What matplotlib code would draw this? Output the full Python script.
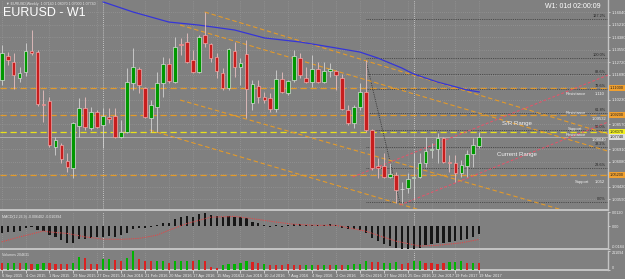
import matplotlib
matplotlib.use("Agg")
import matplotlib.pyplot as plt
import matplotlib.transforms as mtransforms
import numpy as np

plt.rcParams['font.family'] = ['Liberation Sans', 'DejaVu Sans']

# ---------------- data ----------------
date_labels = ["6 Sep 2015", "4 Oct 2015", "1 Nov 2015", "29 Nov 2015", "27 Dec 2015",
               "24 Jan 2016", "21 Feb 2016", "20 Mar 2016", "17 Apr 2016", "15 May 2016",
               "12 Jun 2016", "10 Jul 2016", "7 Aug 2016", "4 Sep 2016", "2 Oct 2016",
               "30 Oct 2016", "27 Nov 2016", "25 Dec 2016", "22 Jan 2017", "19 Feb 2017",
               "19 Mar 2017"]

opens = [1.1154, 1.1314, 1.1274, 1.1167, 1.1207, 1.1347, 1.1340, 1.0994, 1.1014, 1.0707,
         1.0720, 1.0614, 1.0567, 1.0847, 1.0967, 1.0834, 1.0940, 1.0854, 1.0904, 1.0914,
         1.0774, 1.0807, 1.1134, 1.1227, 1.1100, 1.0900, 1.0974, 1.1134, 1.1260, 1.1140,
         1.1397, 1.1407, 1.1287, 1.1207, 1.1454, 1.1394, 1.1307, 1.1200, 1.1100, 1.1347,
         1.1240, 1.1327, 1.1000, 1.1114, 1.1040, 1.1034, 1.0960, 1.1160, 1.1067, 1.1154,
         1.1300, 1.1167, 1.1140, 1.1227, 1.1140, 1.1214, 1.1214, 1.1167, 1.0954, 1.0867,
         1.0974, 1.1074, 1.0820, 1.0577, 1.0580, 1.0507, 1.0520, 1.0424, 1.0434, 1.0500,
         1.0507, 1.0600, 1.0687, 1.0694, 1.0767, 1.0607, 1.0600, 1.0534, 1.0580, 1.0660,
         1.0714]
highs = [1.1387, 1.1340, 1.1334, 1.1240, 1.1400, 1.1487, 1.1354, 1.1087, 1.1040, 1.0774,
         1.0734, 1.0667, 1.0874, 1.1034, 1.1040, 1.0974, 1.0954, 1.0967, 1.0967, 1.0967,
         1.0887, 1.1234, 1.1367, 1.1240, 1.1107, 1.1020, 1.1207, 1.1307, 1.1300, 1.1440,
         1.1434, 1.1467, 1.1354, 1.1454, 1.1607, 1.1400, 1.1334, 1.1234, 1.1367, 1.1407,
         1.1300, 1.1420, 1.1154, 1.1154, 1.1074, 1.1067, 1.1220, 1.1207, 1.1154, 1.1354,
         1.1334, 1.1240, 1.1320, 1.1274, 1.1274, 1.1267, 1.1220, 1.1194, 1.0987, 1.0987,
         1.1134, 1.1287, 1.0827, 1.0634, 1.0667, 1.0600, 1.0540, 1.0474, 1.0534, 1.0667,
         1.0667, 1.0774, 1.0734, 1.0800, 1.0774, 1.0654, 1.0654, 1.0620, 1.0687, 1.0767,
         1.0807]
lows = [1.1120, 1.1254, 1.1094, 1.1140, 1.1180, 1.1320, 1.0980, 1.0874, 1.0707, 1.0654,
        1.0600, 1.0540, 1.0500, 1.0774, 1.0820, 1.0820, 1.0834, 1.0700, 1.0867, 1.0767,
        1.0767, 1.0800, 1.1087, 1.1067, 1.0900, 1.0807, 1.0807, 1.1040, 1.1134, 1.1134,
        1.1320, 1.1267, 1.1200, 1.1200, 1.1374, 1.1274, 1.1167, 1.1087, 1.1087, 1.1174,
        1.1120, 1.0900, 1.0954, 1.1000, 1.1000, 1.0940, 1.0940, 1.1067, 1.1054, 1.1140,
        1.1167, 1.1137, 1.1107, 1.1134, 1.1134, 1.1174, 1.1087, 1.0954, 1.0854, 1.0834,
        1.0954, 1.0807, 1.0554, 1.0500, 1.0500, 1.0500, 1.0334, 1.0334, 1.0400, 1.0354,
        1.0500, 1.0574, 1.0634, 1.0600, 1.0600, 1.0540, 1.0474, 1.0507, 1.0507, 1.0574,
        1.0700]
closes = [1.1334, 1.1287, 1.1187, 1.1200, 1.1347, 1.1334, 1.0994, 1.0990, 1.0720, 1.0754,
          1.0627, 1.0574, 1.0867, 1.0967, 1.0840, 1.0940, 1.0840, 1.0914, 1.0897, 1.0774,
          1.0807, 1.1140, 1.1240, 1.1120, 1.0907, 1.0987, 1.1134, 1.1260, 1.1147, 1.1374,
          1.1390, 1.1274, 1.1207, 1.1440, 1.1400, 1.1300, 1.1214, 1.1100, 1.1360, 1.1240,
          1.1267, 1.1094, 1.1127, 1.1040, 1.1020, 1.0960, 1.1160, 1.1074, 1.1147, 1.1314,
          1.1187, 1.1140, 1.1227, 1.1140, 1.1214, 1.1227, 1.1187, 1.0960, 1.0867, 1.0974,
          1.1074, 1.0820, 1.0567, 1.0570, 1.0507, 1.0527, 1.0420, 1.0430, 1.0494, 1.0507,
          1.0600, 1.0680, 1.0694, 1.0767, 1.0607, 1.0600, 1.0534, 1.0587, 1.0660, 1.0720,
          1.0774]

# blue moving average (candle index, price)
ma_idx = [17, 22, 28, 33, 39, 44, 50, 55, 60, 63, 67, 69, 73, 78, 80]
ma_val = [1.1674, 1.1607, 1.1540, 1.1520, 1.1487, 1.1434, 1.1407, 1.1374, 1.1340,
          1.1300, 1.1234, 1.1194, 1.1140, 1.1087, 1.1074]

# MACD main (histogram) and signal
macd_main = [-0.0056, -0.0048, -0.0048, -0.0040, -0.0016, -0.0008, -0.0032, -0.0040, -0.0072, -0.0088,
             -0.0112, -0.0136, -0.0136, -0.0104, -0.0104, -0.0096, -0.0088, -0.0088, -0.0080, -0.0088,
             -0.0072, -0.0056, -0.0024, -0.0016, -0.0016, -0.0008, 0.0008, 0.0024, 0.0024, 0.0056,
             0.0072, 0.0080, 0.0072, 0.0096, 0.0104, 0.0088, 0.0080, 0.0072, 0.0080, 0.0072,
             0.0072, 0.0064, 0.0032, 0.0024, 0.0008, -0.0008, 0.0008, -0.0008, 0.0008, 0.0016,
             0.0016, 0.0008, 0.0008, 0.0008, 0.0008, 0.0016, 0.0008, -0.0016, -0.0024, -0.0024,
             -0.0032, -0.0056, -0.0096, -0.0120, -0.0144, -0.0160, -0.0176, -0.0184, -0.0184, -0.0184,
             -0.0176, -0.0152, -0.0144, -0.0136, -0.0136, -0.0128, -0.0120, -0.0112, -0.0104, -0.0088,
             -0.0064]
sig_idx = [0, 3, 7, 8, 11, 14, 17, 20, 23, 26, 28, 31, 35, 39, 42, 46, 49, 53, 56, 61,
           66, 70, 73, 77, 80]
sig_val = [-0.0126, -0.0086, -0.0038, -0.0046, -0.0058, -0.0086, -0.0104, -0.0106, -0.0098,
           -0.0072, -0.0032, 0.0022, 0.0074, 0.0080, 0.0062, 0.0034, 0.0016, 0.0008, 0.0008,
           -0.0040, -0.0120, -0.0160, -0.0154, -0.0134, -0.0106]

volumes = [73850, 73850, 79125, 73850, 79125, 63300, 68575, 73850, 79125, 68575,
           68575, 63300, 79125, 142425, 131875, 63300, 63300, 121325, 121325, 110775,
           100225, 131875, 205725, 121325, 100225, 100225, 105500, 105500, 73850, 100225,
           100225, 105500, 100225, 110775, 100225, 36925, 26375, 52750, 63300, 63300,
           79125, 100225, 89675, 73850, 68575, 58025, 52750, 52750, 63300, 52750,
           52750, 58025, 58025, 58025, 58025, 52750, 58025, 52750, 58025, 63300,
           63300, 100225, 89675, 89675, 79125, 79125, 84400, 63300, 79125, 94950,
           100225, 79125, 73850, 63300, 73850, 89675, 84400, 100225, 79125, 79125,
           73850]
vol_up = "RGGRGRGGRRRRGGRRRGGRRGGRRRGGRGGGRGRRRGGGGGRRGRRRRRRGGRGRGRGGGGRRGGGRRGGRRRRGGGRGR"

price_ticks = [1.16040, 1.15210, 1.14380, 1.13550, 1.12720, 1.11890, 1.11060, 1.10230,
               1.09400, 1.08570, 1.07740, 1.06910, 1.06080, 1.05250, 1.04420, 1.03590]

# horizontal S/R levels
sr_levels = [1.1100, 1.0920, 1.0807, 1.0520]
sr_colors = ['#e39a2a', '#e39a2a', '#e8e01a', '#e39a2a']
bid_price = 1.0774

# Fibonacci retracement
fib_low, fib_high = 1.0340, 1.1300
fib_start_idx = 61
fib_ratios = [0.0, 23.6, 38.2, 50.0, 61.8, 78.6, 88.6, 100.0, 127.2]
fib_swing = [(61, 1.1287), (66.7, 1.0334)]

# trend lines (candle index, price)
orange_lines = [[(34, 1.1607), (101.6, 1.0793)],
                [(29.9, 1.1520), (101.6, 1.0679)],
                [(29.9, 1.1020), (101.6, 1.0199)],
                [(24.8, 1.0820), (75.0, 1.0229)]]
pink_lines = [[(58.8, 1.0507), (101.6, 1.1187)],
              [(66.7, 1.0320), (101.6, 1.0874)]]
year_sep = [17, 69]

# ---------------- drawing ----------------
W, H = 625, 279
BG = '#808080'
GRID = '#9e9e9e'
SEP = '#c4c4c4'
fig = plt.figure(figsize=(W / 100, H / 100), dpi=100, facecolor=BG)


def rect(x0, y0, x1, y1):
    return [x0 / W, 1 - y1 / H, (x1 - x0) / W, (y1 - y0) / H]


ax = fig.add_axes(rect(0, 0, 608, 210))
axm = fig.add_axes(rect(0, 211.5, 608, 249), sharex=ax)
axv = fig.add_axes(rect(0, 251, 608, 270), sharex=ax)

n = len(opens)
x = np.arange(n)
o = np.array(opens); hi = np.array(highs); lo = np.array(lows); c = np.array(closes)

for a in (ax, axm, axv):
    a.set_facecolor(BG)
    for s in ('top', 'left'):
        a.spines[s].set_visible(False)
    a.spines['right'].set_color(SEP)
    a.spines['right'].set_linewidth(1.0)
    a.spines['bottom'].set_color(SEP)
    a.spines['bottom'].set_linewidth(1.4)
    a.yaxis.tick_right()
    a.tick_params(axis='y', labelsize=3, colors='#ececec', length=1.5, pad=1, width=0.5)
    for yi in year_sep:
        a.axvline(yi, color='#d8d8d8', ls=(0, (1, 1.5)), lw=0.6, zorder=1)

ax.set_xlim(-0.285, 101.56)
ax.set_ylim(1.0287, 1.1687)

# price boxes on the axis replace the tick labels they cover
box_levels = sr_levels + [bid_price]
ax.set_yticks(price_ticks)
ax.set_yticklabels(["" if min(abs(t - b) for b in box_levels) < 0.0030 else f"{t:.5f}"
                    for t in price_ticks])
xt = list(range(0, n, 4))
axv.set_xticks(xt)
axv.set_xticklabels(date_labels)
for a in (ax, axm, axv):
    a.grid(True, axis='x', color=GRID, ls=(0, (1, 2)), lw=0.5, zorder=0)
ax.grid(True, axis='y', color=GRID, ls=(0, (1, 2)), lw=0.5, zorder=0)
ax.tick_params(axis='x', bottom=False, labelbottom=False)
axm.tick_params(axis='x', bottom=False, labelbottom=False)
axv.tick_params(axis='x', labelsize=2.9, colors='#ececec', length=2, pad=0.8, width=0.5)
for lbl in axv.get_xticklabels():
    lbl.set_ha('left')

# horizontal S/R lines
for lv, col in zip(sr_levels, sr_colors):
    ax.axhline(lv, color=col, ls=(0, (5, 3)), lw=0.9, zorder=2)
ax.axhline(bid_price, color='#b4b4b4', lw=0.6, zorder=2)

# fib lines
btr = mtransforms.blended_transform_factory(ax.transAxes, ax.transData)
span = fib_high - fib_low
for r in fib_ratios:
    lv = fib_low + span * r / 100
    ax.plot([fib_start_idx, 101.6], [lv, lv], color='#3a3a3a', ls=(0, (1, 1.2)), lw=0.6, zorder=2)
    ax.text(0.996, lv + 0.0005, f"{r:.1f}%", transform=btr,
            ha='right', va='bottom', fontsize=2.8, color='#262626', zorder=5)
ax.plot([p[0] for p in fib_swing], [p[1] for p in fib_swing], color='#2e2e2e',
        ls=(0, (1, 1.2)), lw=0.6, zorder=2)

# trend lines
for ln in orange_lines:
    ax.plot([p[0] for p in ln], [p[1] for p in ln], color='#e39a2a', ls=(0, (4, 2.5)), lw=0.8, zorder=2)
for ln in pink_lines:
    ax.plot([p[0] for p in ln], [p[1] for p in ln], color='#e0566a', ls=(0, (2.5, 1.8)), lw=0.8, zorder=2)

# moving average
ax.plot(ma_idx, ma_val, color='#3535d8', lw=0.9, zorder=2)

# candles
upc = c >= o
wick_col = ['#d2d2d2' if u else '#e8c0c0' for u in upc]
ax.vlines(x, lo, hi, colors=wick_col, lw=0.6, zorder=3)
body_h = np.maximum(np.abs(c - o), 0.00025)
ax.bar(x, body_h, bottom=np.minimum(o, c), width=0.62,
       color=['#009800' if u else '#c81e1e' for u in upc],
       edgecolor=['#dcdcdc' if u else '#f2a6a6' for u in upc], linewidth=0.5, zorder=4)


# texts on main panel
def ptxt(xp, price, s, **kw):
    kw.setdefault('fontsize', 3)
    kw.setdefault('color', '#f2f2f2')
    ax.text(xp / 608, price, s, transform=btr, va='center', zorder=6, **kw)


ptxt(566, sr_levels[0] - 0.0040, "Resistance")
ptxt(595, sr_levels[0] - 0.0040, "1.110")
ptxt(566, sr_levels[1] + 0.0013, "Resistance")
ptxt(606, sr_levels[1] - 0.0027, "1.09532", ha='right')
ptxt(568, sr_levels[2] + 0.0020, "Support")
ptxt(566, sr_levels[2] - 0.0020, "Resistance")
ptxt(606, sr_levels[2] - 0.0053, "1.08040", ha='right')
ptxt(575, sr_levels[3] - 0.0045, "Support")
ptxt(595, sr_levels[3] - 0.0045, "1.052")
ptxt(502, 1.0866, "S/R Range", fontsize=4.4)
ptxt(497, 1.0660, "Current Range", fontsize=4.4)

# axis price boxes
for lv, col in [(sr_levels[0], '#f0a030'), (sr_levels[1], '#f0a030'), (sr_levels[2], '#f2f020'),
                (bid_price, '#dcdcdc'), (sr_levels[3], '#f0a030')]:
    ax.text(1.003, lv, f"{lv:.5f}", transform=btr, ha='left', va='center', fontsize=2.8,
            color='#202020', clip_on=False, zorder=7,
            bbox=dict(boxstyle='square,pad=0.25', fc=col, ec='none'))

fig.text(6 / W, 1 - 4 / H, "\u25bc EURUSD,Weekly  1.07140 1.08070 1.07000 1.07740",
         fontsize=2.6, color='#e6e6e6', va='center', ha='left')
fig.text(3 / W, 1 - 12.5 / H, "EURUSD - W1", fontsize=9, color='white', va='center', ha='left')
fig.text(601 / W, 1 - 7 / H, "W1: 01d 02:00:09", fontsize=5, color='white', va='center', ha='right')

# MACD panel
axm.set_ylim(-0.0184, 0.0120)
axm.bar(x, macd_main, width=0.36, color='#161616', zorder=3)
axm.plot(sig_idx, sig_val, color='#e04848', ls=(0, (1, 1)), lw=0.8, zorder=4)
axm.set_yticks([0.0120, 0.0, -0.0184])
axm.set_yticklabels(["0.0120", "0.00", "-0.0184"])
axm.tick_params(axis='y', labelsize=2.7)
mlabels = axm.get_yticklabels()
mlabels[0].set_va('top')
mlabels[2].set_va('bottom')
axm.text(0.004, 0.9, "MACD(12,26,9) -0.006402 -0.010394", transform=axm.transAxes,
         fontsize=2.6, color='#e6e6e6', va='top', ha='left')

# Volume panel
axv.set_ylim(0, 211094)
axv.bar(x, volumes, width=0.36, color=['#00b400' if f == 'G' else '#dc2020' for f in vol_up], zorder=3)
axv.set_yticks([211094, 0])
axv.set_yticklabels(["211094", "0"])
axv.tick_params(axis='y', labelsize=2.7)
vlabels = axv.get_yticklabels()
vlabels[0].set_va('top')
vlabels[1].set_va('bottom')
axv.text(0.004, 0.92, "Volumes 204631", transform=axv.transAxes,
         fontsize=2.6, color='#e6e6e6', va='top', ha='left')

fig.savefig("out.png", dpi=100, facecolor=BG)
